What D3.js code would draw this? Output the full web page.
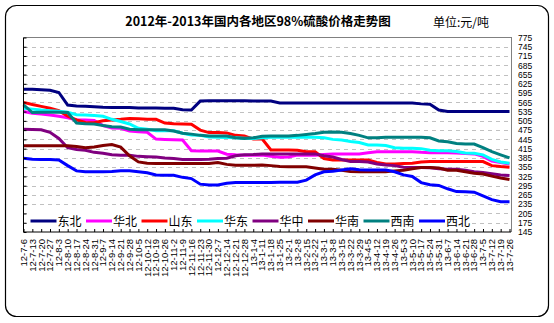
<!DOCTYPE html>
<html>
<head>
<meta charset="utf-8">
<script src="https://cdn.jsdelivr.net/npm/d3@7/dist/d3.min.js"></script>
<style>
  html, body { margin: 0; padding: 0; background: #fff; }
  svg { display: block; }
  text { font-family: "Liberation Sans", Arial, sans-serif; }
  .cjk { font-family: "Noto Sans CJK SC", "Noto Sans", sans-serif; }
</style>
</head>
<body>
<svg id="chart" width="554" height="323"></svg>
<script>
// Weekly dates, 2012-07-06 .. 2013-07-26
const dates = [
  "12-7-6","12-7-13","12-7-20","12-7-27","12-8-3","12-8-10","12-8-17","12-8-24","12-8-31",
  "12-9-7","12-9-14","12-9-21","12-9-28","12-10-5","12-10-12","12-10-19","12-10-26",
  "12-11-2","12-11-9","12-11-16","12-11-23","12-11-30","12-12-7","12-12-14","12-12-21","12-12-28",
  "13-1-4","13-1-11","13-1-18","13-1-25","13-2-1","13-2-8","13-2-15","13-2-22",
  "13-3-1","13-3-8","13-3-15","13-3-22","13-3-29","13-4-5","13-4-12","13-4-19","13-4-26",
  "13-5-3","13-5-10","13-5-17","13-5-24","13-5-31","13-6-7","13-6-14","13-6-21","13-6-28",
  "13-7-5","13-7-12","13-7-19","13-7-26"
];

// Prices, yuan per tonne
const dongbei = [607,607,606,604,597,556,553,552,551,549,548,548,548,547,547,547,546,546,541,540,569,570,570,570,570,570,569,569,569,563,563,563,563,563,563,563,563,563,563,563,563,563,563,563,563,560,559,540,535,535,535,535,535,535,535,535];
const huabei  = [535,530,527,524,520,515,508,508,506,490,482,481,472,470,468,446,445,444,443,408,407,407,407,397,395,394,394,394,390,387,388,394,394,394,396,398,398,398,398,402,405,405,405,405,405,403,402,402,402,401,399,398,390,375,370,365];
const shandong= [565,558,552,546,538,520,508,500,499,505,508,510,513,512,510,510,498,496,495,494,475,467,467,466,458,456,446,447,411,411,411,410,405,405,383,378,378,378,378,378,370,365,365,367,368,372,373,373,373,373,373,373,373,360,357,355];
const huadong = [546,543,540,538,536,533,525,524,522,520,510,503,495,481,478,473,473,473,465,459,458,453,452,451,450,449,448,450,452,452,452,452,452,452,450,445,443,438,435,427,427,425,418,416,416,415,410,408,408,406,401,400,395,380,372,368];
const huazhong= [478,477,476,468,448,418,412,410,403,400,395,394,394,390,389,388,385,383,380,380,380,381,383,384,392,395,396,398,398,398,398,398,398,398,392,388,380,373,373,372,365,362,360,355,354,354,353,350,348,348,345,340,338,334,330,328];
const huanan  = [424,424,424,424,424,424,422,418,420,425,428,420,392,372,368,367,367,367,367,367,367,367,370,364,361,361,361,362,360,357,356,356,356,352,348,348,345,341,340,340,340,340,343,345,350,354,354,352,345,345,340,335,333,326,320,315];
const xinan   = [557,532,533,533,533,532,498,496,495,490,486,485,478,476,476,476,476,472,465,462,458,456,456,456,450,448,450,455,456,456,456,458,461,464,468,469,468,464,458,450,450,452,452,452,452,452,450,440,437,432,430,430,418,405,395,385];
const xibei   = [384,381,380,380,378,360,343,340,340,340,341,343,343,340,337,330,329,329,322,318,300,297,297,303,305,305,305,305,305,306,306,306,313,330,340,342,346,350,347,346,346,346,340,330,325,305,298,296,285,276,275,274,262,250,243,243];

const seriesNames  = ["东北","华北","山东","华东","华中","华南","西南","西北"];
const seriesValues = [dongbei, huabei, shandong, huadong, huazhong, huanan, xinan, xibei];
const seriesColors = ["#000080","#FF00FF","#FF0000","#00FFFF","#800080","#800000","#008080","#0000FF"];

const yTicks = d3.range(145, 776, 30);

const svg = d3.select("#chart");

// outer rounded frame
svg.append("rect")
  .attr("x", 5.5).attr("y", 5.5).attr("width", 543).attr("height", 311)
  .attr("rx", 11).attr("ry", 11)
  .attr("fill", "#fff").attr("stroke", "#000").attr("stroke-width", 1.2);

// titles
svg.append("text").attr("class", "cjk")
  .attr("x", 258).attr("y", 26).attr("text-anchor", "middle")
  .attr("font-size", 12.5).attr("font-weight", "bold").attr("fill", "#000")
  .text("2012年-2013年国内各地区98%硫酸价格走势图");
svg.append("text").attr("class", "cjk")
  .attr("x", 433).attr("y", 27)
  .attr("font-size", 12).attr("fill", "#000")
  .text("单位:元/吨");

const plot = { left: 23.5, right: 511, top: 37.5, bottom: 232 };

const x = d3.scalePoint().domain(dates).range([plot.left, plot.right - 1.5]);
const y = d3.scaleLinear().domain([145, 775]).range([plot.bottom, plot.top]);

// dashed horizontal grid
svg.append("g")
  .selectAll("line")
  .data(yTicks.filter(v => v > 145 && v < 775))
  .join("line")
  .attr("x1", plot.left).attr("x2", plot.right)
  .attr("y1", d => Math.round(y(d)) + 0.5).attr("y2", d => Math.round(y(d)) + 0.5)
  .attr("stroke", "#C0C0C0").attr("stroke-dasharray", "4,4")
  .attr("shape-rendering", "crispEdges");

// top and right plot border
svg.append("path")
  .attr("d", `M${plot.left},${plot.top}H${plot.right}V${plot.bottom}`)
  .attr("fill", "none").attr("stroke", "#808080")
  .attr("shape-rendering", "crispEdges");

// series lines
const line = d3.line().x((d, i) => x(dates[i])).y(d => y(d));
svg.append("g")
  .selectAll("path")
  .data(seriesValues)
  .join("path")
  .attr("d", d => line(d))
  .attr("fill", "none")
  .attr("stroke", (d, i) => seriesColors[i])
  .attr("stroke-width", 3)
  .attr("stroke-linejoin", "miter");

// legend (white box over the lower grid rows)
const legend = svg.append("g");
legend.append("rect")
  .attr("x", 27).attr("y", 210.5).attr("width", 445).attr("height", 20)
  .attr("fill", "#fff");
const items = legend.selectAll("g.item")
  .data(seriesNames)
  .join("g").attr("class", "item")
  .attr("transform", (d, i) => `translate(${30.5 + i * 55.5},221)`);
items.append("line")
  .attr("x1", 0).attr("x2", 26).attr("y1", 0).attr("y2", 0)
  .attr("stroke", (d, i) => seriesColors[i]).attr("stroke-width", 3);
items.append("text").attr("class", "cjk")
  .attr("x", 27).attr("y", 4.5)
  .attr("font-size", 12).attr("fill", "#000")
  .text(d => d);

// left axis with inward ticks, no labels
const leftAxis = svg.append("g")
  .attr("transform", `translate(${plot.left},0)`)
  .call(d3.axisRight(y).tickValues(yTicks).tickSize(3).tickFormat(""));
leftAxis.select(".domain").attr("stroke", "#000").attr("d", `M0,${plot.top}V${plot.bottom}`);
leftAxis.selectAll("line").attr("stroke", "#000");

// bottom axis with inward ticks and rotated date labels
const bottomAxis = svg.append("g")
  .attr("transform", `translate(0,${plot.bottom})`)
  .call(d3.axisTop(x).tickSize(3).tickFormat(""));
bottomAxis.select(".domain").attr("stroke", "#000").attr("d", `M${plot.left},0H${plot.right}`);
bottomAxis.selectAll("line").attr("stroke", "#000");

svg.append("g")
  .selectAll("text")
  .data(dates)
  .join("text")
  .attr("transform", d => `translate(${x(d)},${plot.bottom + 7}) rotate(-90)`)
  .attr("text-anchor", "end")
  .attr("dy", "0.35em")
  .attr("font-size", 9.5)
  .attr("fill", "#000")
  .text(d => d);

// right value labels
const rightAxis = svg.append("g")
  .attr("transform", `translate(${plot.right + 7},0)`)
  .call(d3.axisRight(y).tickValues(yTicks).tickSize(0).tickPadding(0));
rightAxis.select(".domain").remove();
rightAxis.selectAll("text")
  .attr("font-family", "Liberation Sans, Arial, sans-serif")
  .attr("font-size", 8.5).attr("fill", "#000");
</script>
</body>
</html>
